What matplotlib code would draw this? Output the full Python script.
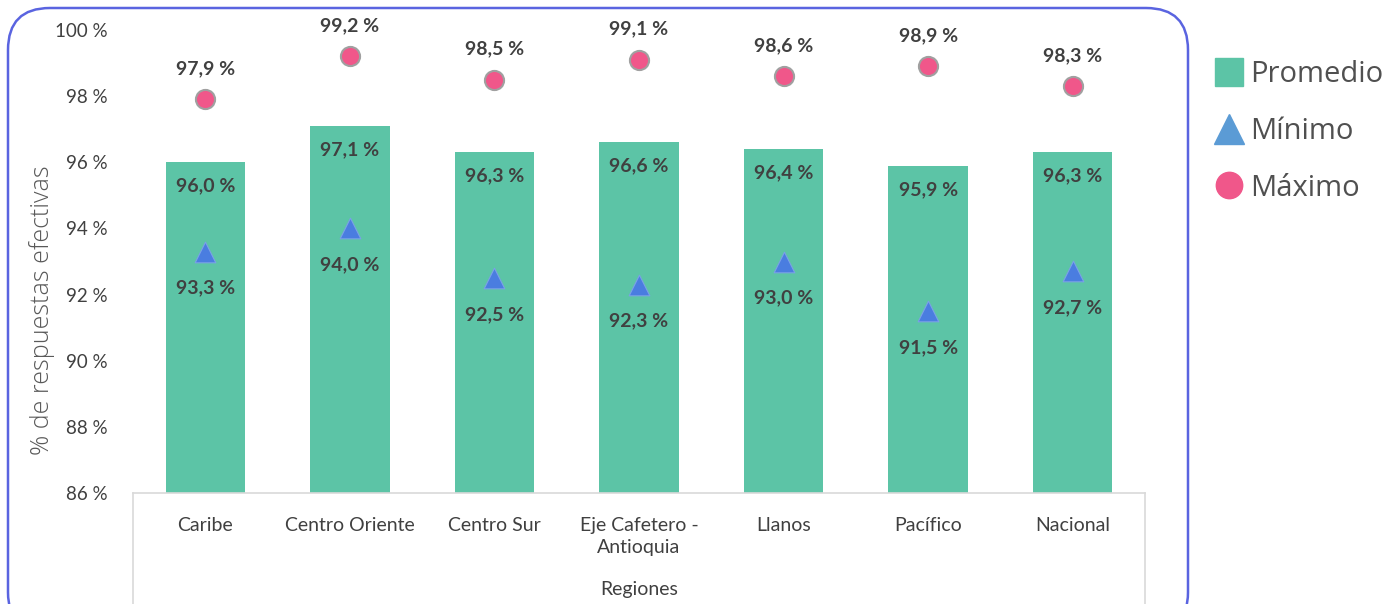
import matplotlib.pyplot as plt
from matplotlib.patches import FancyBboxPatch
from matplotlib.lines import Line2D

regiones = ['Caribe', 'Centro Oriente', 'Centro Sur', 'Eje Cafetero -\nAntioquia',
            'Llanos', 'Pacífico', 'Nacional']
promedio = [96.0, 97.1, 96.3, 96.6, 96.4, 95.9, 96.3]
minimo = [93.3, 94.0, 92.5, 92.3, 93.0, 91.5, 92.7]
maximo = [97.9, 99.2, 98.5, 99.1, 98.6, 98.9, 98.3]
yticks = [86, 88, 90, 92, 94, 96, 98, 100]

verde = '#5cc4a6'
azul = '#4a7de0'
rosa = '#f0578a'
texto = '#404040'


def fmt(v):
    return f'{v:.1f} %'.replace('.', ',')


plt.rcParams['font.family'] = ['Lato', 'DejaVu Sans']

fig = plt.figure(figsize=(14, 6.04), dpi=100)
ax = fig.add_axes([133 / 1400, 1 - 493 / 604, (1145 - 133) / 1400, (493 - 30) / 604])

x = list(range(len(regiones)))
ax.bar(x, [p - 86 for p in promedio], bottom=86, width=0.55, color=verde, zorder=2)
ax.scatter(x, minimo, marker='^', s=220, color=azul, edgecolor='#7aa0e8', linewidth=0.8, zorder=3)
ax.scatter(x, maximo, marker='o', s=190, color=rosa, edgecolor='#a0a0a0', linewidth=1.5, zorder=3)

for i in x:
    ax.annotate(fmt(maximo[i]), (i, maximo[i]), xytext=(0, 16), textcoords='offset points',
                ha='center', va='bottom', fontsize=14, fontweight='bold', color=texto)
    ax.annotate(fmt(promedio[i]), (i, promedio[i]), xytext=(0, -11), textcoords='offset points',
                ha='center', va='top', fontsize=14, fontweight='bold', color=texto)
    ax.annotate(fmt(minimo[i]), (i, minimo[i]), xytext=(0, -20), textcoords='offset points',
                ha='center', va='top', fontsize=14, fontweight='bold', color=texto)

ax.set_xlim(-0.5, len(regiones) - 0.5)
ax.set_ylim(86, 100)
ax.set_yticks(yticks)
ax.set_yticklabels([f'{t} %' for t in yticks], fontsize=13.5, color=texto)
ax.set_xticks(x)
ax.set_xticklabels(regiones, fontsize=14, color=texto, linespacing=1.35)
ax.tick_params(axis='both', length=0)
ax.tick_params(axis='y', pad=18)
ax.tick_params(axis='x', pad=17)
for s in ['top', 'right', 'left']:
    ax.spines[s].set_visible(False)
ax.spines['bottom'].set_color('#d9d9d9')
ax.spines['bottom'].set_linewidth(1.2)

# lineas verticales de la categoria multinivel
for xv in [-0.5, len(regiones) - 0.5]:
    ax.plot([xv, xv], [86, 82.5], color='#d9d9d9', lw=1.2, clip_on=False)

ax.set_ylabel('% de respuestas efectivas', fontsize=18, color='#595959', family='Open Sans',
              fontweight='light')
ax.yaxis.set_label_coords(-(133 - 55) / 1012, (493 - 310) / 463)
fig.text((133 + 1145) / 2 / 1400, 1 - 590 / 604, 'Regiones', ha='center', va='center',
         fontsize=14, color=texto)

# marco redondeado
marco = FancyBboxPatch((8 / 1400, -0.05), (1188 - 8) / 1400, 1 - 8 / 604 + 0.05,
                       boxstyle='round,pad=0,rounding_size=0.03', transform=fig.transFigure,
                       fill=False, edgecolor='#5a64e0', linewidth=1.8, mutation_aspect=14 / 6.04)
fig.patches.append(marco)

handles = [Line2D([], [], marker='s', color='none', markerfacecolor=verde, markeredgecolor=verde,
                  markersize=20),
           Line2D([], [], marker='^', color='none', markerfacecolor='#5b9bd5',
                  markeredgecolor='#5b9bd5', markersize=22),
           Line2D([], [], marker='o', color='none', markerfacecolor=rosa, markeredgecolor=rosa,
                  markersize=19)]
leg = fig.legend(handles, ['Promedio', 'Mínimo', 'Máximo'], loc='upper left',
                 bbox_to_anchor=(1182 / 1400, 1 - 34 / 604), frameon=False,
                 prop={'family': 'Open Sans', 'size': 21},
                 handletextpad=0.05, labelspacing=0.95, handlelength=1.4)
for t in leg.get_texts():
    t.set_color('#505050')

fig.savefig('out.png', dpi=100)
